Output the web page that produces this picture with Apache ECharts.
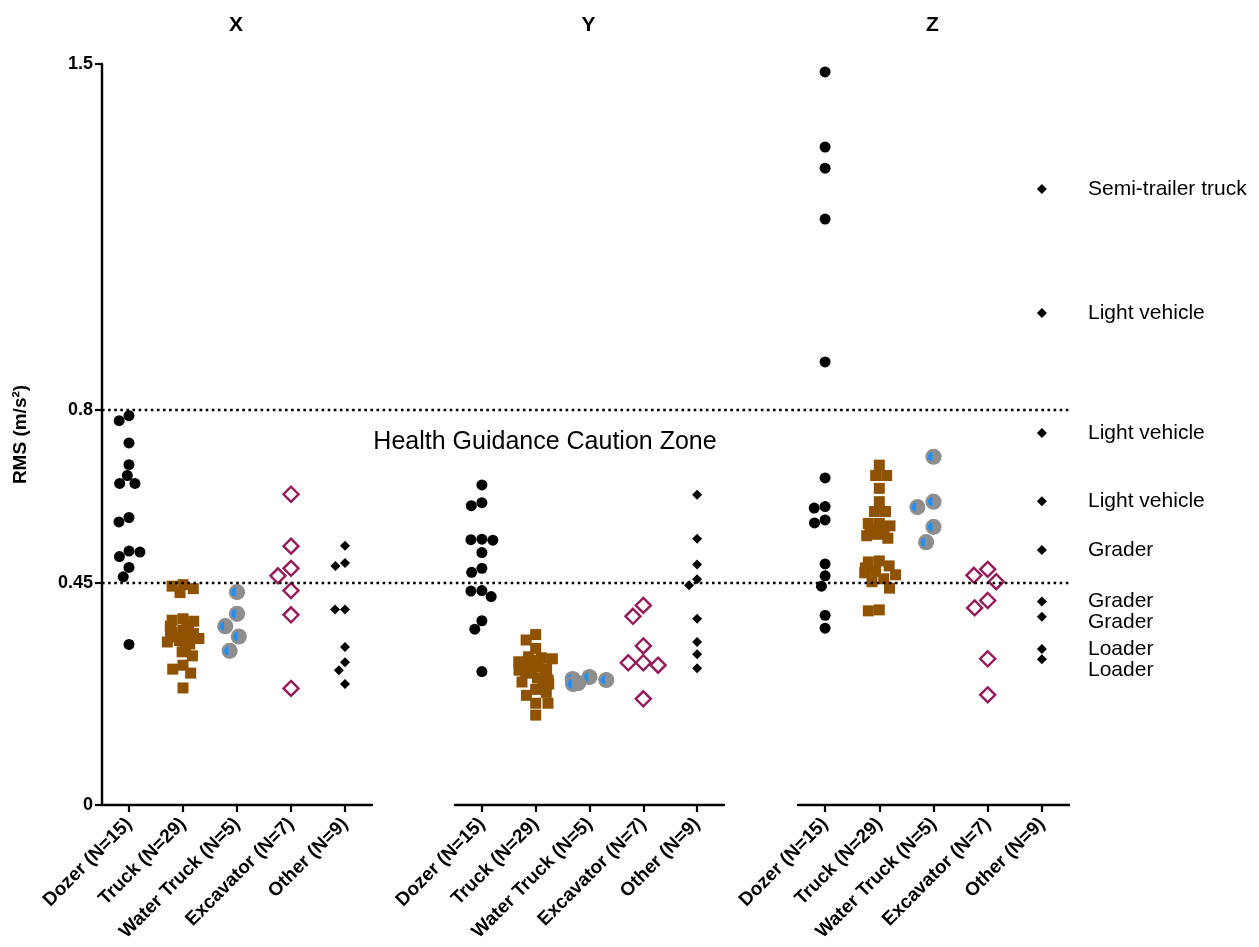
<!DOCTYPE html>
<html>
<head>
<meta charset="utf-8">
<script src="https://cdn.jsdelivr.net/npm/echarts@6/dist/echarts.min.js"></script>
<style>
  html, body { margin: 0; padding: 0; background: #ffffff; }
  #chart { width: 1259px; height: 947px; }
</style>
</head>
<body>
<div id="chart"></div>
<script>
// ---- data ----
const panelTitles = ['X', 'Y', 'Z'];
const categories = ['Dozer (N=15)', 'Truck (N=29)', 'Water Truck (N=5)', 'Excavator (N=7)', 'Other (N=9)'];
const yTicks = [0, 0.45, 0.8, 1.5];
const cautionLevels = [0.8, 0.45];
const cautionText = 'Health Guidance Caution Zone';

// X axis RMS values (m/s²)
const dozerX = [0.788, 0.778, 0.733, 0.689, 0.667, 0.651, 0.651, 0.582, 0.573, 0.514, 0.512, 0.503, 0.481, 0.462, 0.325];
const truckX = [0.446, 0.443, 0.438, 0.430, 0.377, 0.374, 0.372, 0.366, 0.362, 0.360, 0.357, 0.354, 0.350, 0.347,
                0.344, 0.340, 0.337, 0.337, 0.333, 0.330, 0.326, 0.320, 0.320, 0.310, 0.302, 0.283, 0.275, 0.267, 0.237];
const waterTruckX = [0.431, 0.387, 0.362, 0.341, 0.312];
const excavatorX = [0.629, 0.524, 0.479, 0.464, 0.434, 0.385, 0.236];
const otherX = [0.525, 0.490, 0.484, 0.396, 0.396, 0.320, 0.289, 0.273, 0.245];

// Y axis RMS values (m/s²)
const dozerY = [0.648, 0.612, 0.606, 0.538, 0.537, 0.536, 0.511, 0.479, 0.471, 0.434, 0.433, 0.422, 0.373, 0.356, 0.270];
const truckY = [0.345, 0.334, 0.317, 0.300, 0.298, 0.296, 0.293, 0.290, 0.288, 0.285, 0.282, 0.279, 0.276, 0.273,
                0.270, 0.267, 0.264, 0.261, 0.257, 0.253, 0.249, 0.245, 0.240, 0.234, 0.228, 0.222, 0.206, 0.206, 0.182];
const waterTruckY = [0.259, 0.255, 0.253, 0.247, 0.245];
const excavatorY = [0.404, 0.382, 0.322, 0.288, 0.288, 0.283, 0.215];
const otherY = [0.628, 0.539, 0.487, 0.457, 0.445, 0.377, 0.330, 0.305, 0.277];

// Z axis RMS values (m/s²)
const dozerZ = [1.484, 1.332, 1.289, 1.186, 0.897, 0.662, 0.604, 0.601, 0.577, 0.571, 0.488, 0.464, 0.443, 0.384, 0.358];
const truckZ = [0.688, 0.667, 0.667, 0.641, 0.614, 0.594, 0.594, 0.570, 0.570, 0.565, 0.562, 0.558, 0.555, 0.552,
                0.548, 0.545, 0.540, 0.494, 0.492, 0.484, 0.480, 0.473, 0.470, 0.466, 0.458, 0.452, 0.439, 0.395, 0.393];
const waterTruckZ = [0.705, 0.614, 0.603, 0.563, 0.532];
const excavatorZ = [0.477, 0.465, 0.452, 0.414, 0.399, 0.296, 0.223];
const otherZ = [1.247, 0.996, 0.753, 0.615, 0.516, 0.412, 0.381, 0.316, 0.295];
const otherZNames = ['Semi-trailer truck', 'Light vehicle', 'Light vehicle', 'Light vehicle',
                     'Grader', 'Grader', 'Grader', 'Loader', 'Loader'];

const panelData = [
  [dozerX, truckX, waterTruckX, excavatorX, otherX],
  [dozerY, truckY, waterTruckY, excavatorY, otherY],
  [dozerZ, truckZ, waterTruckZ, excavatorZ, otherZ]
];

// ---- styling ----
const FONT = "'Liberation Sans', Arial, Helvetica, sans-serif";
const gridBoxes = [
  { left: 102, width: 270 },
  { left: 455, width: 269 },
  { left: 798, width: 271 }
];
const GRID_TOP = 64, GRID_HEIGHT = 741;

// grey disc with a blue crescent, used for the water-truck group
const waterSvg =
  '<svg xmlns="http://www.w3.org/2000/svg" width="40" height="40" viewBox="0 0 40 40">' +
  '<circle cx="20" cy="20" r="19" fill="#8e8e8e"/>' +
  '<path d="M17 9 A10 11 0 0 0 17 31 Z" fill="#1e8fff"/>' +
  '</svg>';
const waterSymbol = 'image://data:image/svg+xml;charset=utf-8,' + encodeURIComponent(waterSvg);

const groupStyles = [
  { symbol: 'circle', symbolSize: 11, itemStyle: { color: '#000000', opacity: 1 } },
  { symbol: 'rect', symbolSize: 11, itemStyle: { color: '#8f5200', opacity: 1 } },
  { symbol: waterSymbol, symbolSize: 17, itemStyle: { opacity: 1 } },
  { symbol: 'diamond', symbolSize: 15,
    itemStyle: { color: 'rgba(0,0,0,0)', borderColor: '#961a58', borderWidth: 2.4, opacity: 1 } },
  { symbol: 'diamond', symbolSize: 10, itemStyle: { color: '#000000', opacity: 1 } }
];

const grids = gridBoxes.map(g => ({ left: g.left, width: g.width, top: GRID_TOP, height: GRID_HEIGHT }));

const xAxes = panelTitles.map((t, i) => ({
  type: 'category',
  gridIndex: i,
  data: categories,
  boundaryGap: true,
  jitter: 34,
  jitterOverlap: false,
  jitterMargin: 0,
  axisLine: { show: true, lineStyle: { color: '#000', width: 2.4 } },
  axisTick: { show: true, alignWithLabel: true, length: 7, lineStyle: { color: '#000', width: 2.2 } },
  axisLabel: {
    show: true, rotate: 45, interval: 0, margin: 16,
    color: '#000', fontFamily: FONT, fontWeight: 'bold', fontSize: 19
  },
  splitLine: { show: false }
}));

const yAxes = panelTitles.map((t, i) => ({
  type: 'value',
  gridIndex: i,
  min: 0,
  max: 1.5,
  show: i === 0,
  name: i === 0 ? 'RMS (m/s²)' : '',
  nameLocation: 'middle',
  nameGap: 72,
  nameRotate: 90,
  nameTextStyle: { color: '#000', fontFamily: FONT, fontWeight: 'bold', fontSize: 19 },
  axisLine: { show: true, lineStyle: { color: '#000', width: 2.4 } },
  axisTick: { show: true, length: 7, customValues: yTicks, lineStyle: { color: '#000', width: 2.2 } },
  axisLabel: {
    show: true, margin: 9, customValues: yTicks,
    color: '#000', fontFamily: FONT, fontWeight: 'bold', fontSize: 18,
    formatter: v => String(v)
  },
  splitLine: { show: false }
}));

const series = [];
panelData.forEach((groups, p) => {
  groups.forEach((values, c) => {
    const st = groupStyles[c];
    const s = {
      type: 'scatter',
      name: panelTitles[p] + ' ' + categories[c],
      xAxisIndex: p,
      yAxisIndex: p,
      symbol: st.symbol,
      symbolSize: st.symbolSize,
      itemStyle: st.itemStyle,
      emphasis: { disabled: true },
      animation: false,
      data: values.map(v => [categories[c], v])
    };
    if (p === 2 && c === 4) {
      s.label = {
        show: true,
        position: 'right',
        formatter: params => otherZNames[params.dataIndex],
        color: '#000', fontFamily: FONT, fontSize: 21
      };
      s.labelLayout = { x: 1088, align: 'left', verticalAlign: 'middle', moveOverlap: 'shiftY' };
    }
    series.push(s);
  });
});

const chart = echarts.init(document.getElementById('chart'), null, { renderer: 'canvas' });
chart.setOption({
  backgroundColor: '#ffffff',
  animation: false,
  grid: grids,
  xAxis: xAxes,
  yAxis: yAxes,
  series: series
});

// panel titles, dotted guidance lines spanning all three panels, zone caption
const graphics = panelTitles.map((t, i) => ({
  type: 'text',
  x: gridBoxes[i].left + gridBoxes[i].width / 2 - 1,
  y: 25,
  style: {
    text: t, fill: '#000', font: 'bold 21px ' + FONT,
    align: 'center', verticalAlign: 'middle'
  },
  silent: true
}));
const xStart = gridBoxes[0].left;
const xEnd = gridBoxes[2].left + gridBoxes[2].width;
cautionLevels.forEach(level => {
  const y = Math.round(chart.convertToPixel({ yAxisIndex: 0 }, level));
  graphics.push({
    type: 'line',
    z: 100,
    shape: { x1: xStart, y1: y, x2: xEnd, y2: y },
    style: { stroke: '#000', lineWidth: 2.6, lineDash: [2.6, 3.5] },
    silent: true
  });
});
const yUpper = chart.convertToPixel({ yAxisIndex: 0 }, cautionLevels[0]);
graphics.push({
  type: 'text',
  z: 100,
  x: 545,
  y: yUpper + 32,
  style: {
    text: cautionText, fill: '#000', font: '25px ' + FONT,
    align: 'center', verticalAlign: 'middle'
  },
  silent: true
});
chart.setOption({ graphic: graphics });
</script>
</body>
</html>
